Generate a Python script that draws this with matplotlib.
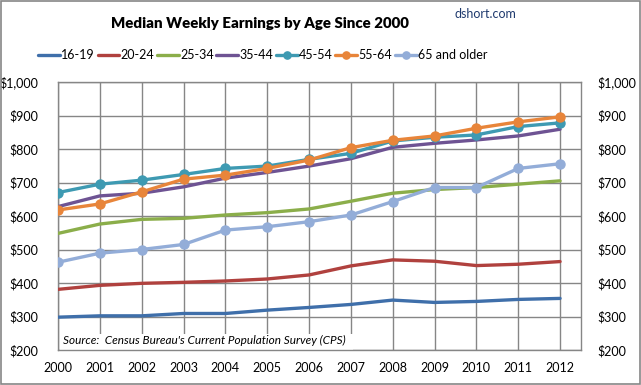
import matplotlib
matplotlib.use("Agg")
import matplotlib.pyplot as plt
from matplotlib.ticker import FuncFormatter, MultipleLocator
from matplotlib.patches import Rectangle

years = list(range(2000, 2013))
age_16_19 = [298, 302, 302, 309, 309, 319, 327, 336, 349, 342, 345, 351, 354]
age_20_24 = [381, 393, 399, 402, 406, 412, 424, 451, 469, 465, 452, 456, 464]
age_25_34 = [548, 576, 590, 593, 603, 610, 621, 644, 668, 679, 685, 695, 705]
age_35_44 = [628, 660, 668, 687, 713, 730, 749, 771, 805, 817, 827, 839, 859]
age_45_54 = [670, 695, 707, 724, 742, 749, 769, 787, 824, 835, 842, 867, 878]
age_55_64 = [618, 636, 672, 710, 722, 742, 767, 804, 826, 839, 862, 881, 896]
age_65_up = [462, 489, 500, 515, 558, 568, 583, 603, 643, 685, 685, 742, 756]

labels = ["16-19", "20-24", "25-34", "35-44", "45-54", "55-64", "65 and older"]
series = [age_16_19, age_20_24, age_25_34, age_35_44, age_45_54, age_55_64, age_65_up]
colors = ["#3F6FAA", "#B0413E", "#8BAE4A", "#6E5393", "#3E9AB2", "#E8853A", "#93ADD8"]
markers = [None, None, None, None, "o", "o", "o"]

plt.rcParams['font.family'] = ['Lato', 'DejaVu Sans']

fig = plt.figure(figsize=(6.41, 3.85), dpi=100)
fig.patch.set_facecolor("white")
ax = fig.add_axes([58/641, 35/385, (581-58)/641, (350-82)/385])

for vals, lab, col, mk in zip(series, labels, colors, markers):
    ax.plot(years, vals, color=col, lw=2.4, marker=mk, markersize=6.5,
            markeredgecolor=col, label=lab, solid_capstyle='round', zorder=3)

ax.set_xlim(2000, 2012.5)
ax.set_ylim(200, 1000)
ax.yaxis.set_major_locator(MultipleLocator(100))
ax.set_xticks(years)
ax.set_xticklabels([str(y) for y in years])
fmt = FuncFormatter(lambda v, p: "${:,.0f}".format(v))
ax.yaxis.set_major_formatter(fmt)
ax.grid(True, color="#868686", lw=1.0, zorder=0)
for s in ax.spines.values():
    s.set_color("#868686")
    s.set_linewidth(1.0)
ax.tick_params(axis='both', length=0, labelsize=9, colors="black")
ax.tick_params(axis='y', pad=14)
ax.tick_params(axis='x', pad=9)

ax2 = ax.twinx()
ax2.set_ylim(200, 1000)
ax2.yaxis.set_major_locator(MultipleLocator(100))
ax2.yaxis.set_major_formatter(fmt)
ax2.tick_params(axis='y', length=0, labelsize=9, pad=12)
for s in ax2.spines.values():
    s.set_visible(False)

# source box
ax.add_patch(Rectangle((2000.05, 201), 7.0, 48, facecolor="white", edgecolor="none",
                       zorder=2))
ax.text(2000.12, 212, "Source:  Census Bureau's Current Population Survey (CPS)",
        fontsize=8.5, style='italic', zorder=4, va='bottom')

fig.text(0.406, 0.938, "Median Weekly Earnings by Age Since 2000", ha='center',
         va='center', fontsize=10.8, fontweight='heavy')
fig.text(0.758, 0.964, "dshort.com", ha='center', va='center', fontsize=9,
         color="#1F3A6E")

fig.legend(loc='center', bbox_to_anchor=(0.41, 0.857), ncol=7, frameon=False,
           fontsize=9, handlelength=1.75, columnspacing=0.2, handletextpad=0.1,
           markerscale=0.8)

fig.add_artist(Rectangle((0.001, 0.002), 0.997, 0.995, transform=fig.transFigure,
                         fill=False, edgecolor="#868686", lw=1.2))

fig.savefig("out.png", dpi=100)
